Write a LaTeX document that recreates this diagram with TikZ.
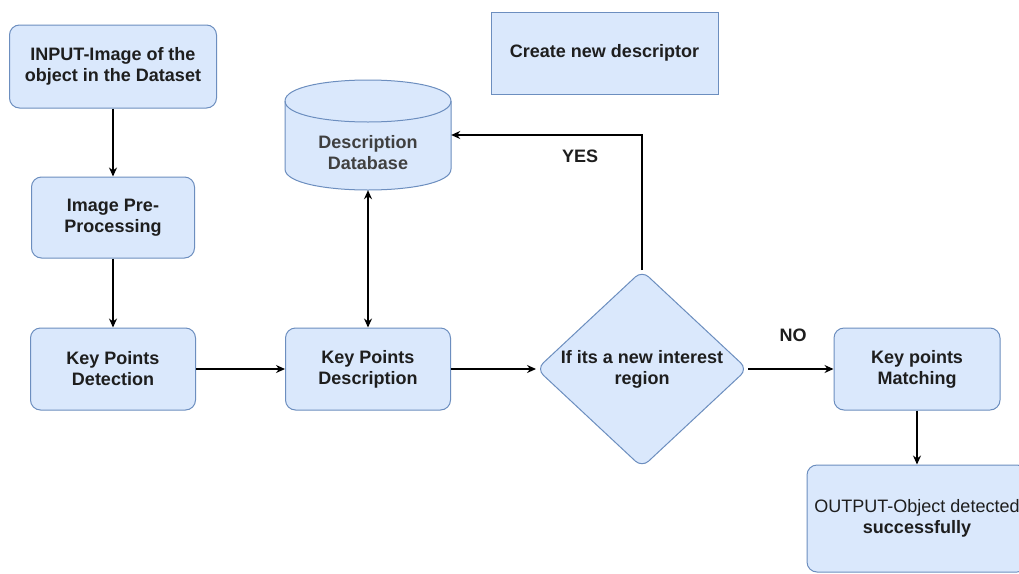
\documentclass[tikz,border=0pt]{standalone}
\usepackage{fontspec}
\setmainfont{Liberation Sans}
\usetikzlibrary{arrows.meta,shapes.geometric}
\definecolor{boxfill}{HTML}{DAE8FC}
\definecolor{boxline}{HTML}{6C8EBF}
\definecolor{txt}{HTML}{1E1E1E}
\tikzset{
  fnt/.style={font=\fontsize{18}{21}\selectfont\bfseries},
  box/.style={draw=boxline, fill=boxfill, line width=1pt, rounded corners=10pt, inner sep=2pt,
    align=center, text=txt, fnt},
  sq/.style={box, rounded corners=0pt},
  dec/.style={draw=boxline, fill=boxfill, line width=1pt, diamond, rounded corners=9pt, inner sep=0pt,
    align=center, text=txt, fnt},
  conn/.style={line width=1.4pt, -{Stealth[length=9pt,width=8pt]}},
  lbl/.style={text=txt, fnt}
}
\begin{document}
\begin{tikzpicture}[x=1pt,y=-1pt]
\useasboundingbox (0,0) rectangle (1019,573);
\clip (0,0) rectangle (1019,573);
\fill[white] (0,0) rectangle (1019,573);

\node[box, minimum width=207pt, minimum height=83pt] (in) at (113,66.5) {INPUT-Image of the\\object in the Dataset};
\node[box, minimum width=163pt, minimum height=81pt] (pre) at (113,217.5) {Image Pre-\\Processing};
\node[box, minimum width=165pt, minimum height=82pt] (det) at (113,369) {Key Points\\Detection};
\node[box, minimum width=165pt, minimum height=82pt] (desc) at (368,369) {Key Points\\Description};
\node[sq, minimum width=227pt, minimum height=82pt] (new) at (604.5,53) {Create new descriptor};
\node[dec, minimum width=211pt, minimum height=197pt, aspect=1.07] (dia) at (642,369) {If its a new interest\\region};
\node[box, minimum width=220pt, minimum height=107pt, font=\fontsize{18}{21}\selectfont] (out) at (917,518.5) {OUTPUT-Object detected\\\textbf{successfully}};
\node[box, minimum width=166pt, minimum height=82pt] (match) at (917,369) {Key points\\Matching};

% cylinder
\path[draw=boxline, fill=boxfill, line width=1pt]
  (285,101) -- (285,169) .. controls (285,197) and (451,197) .. (451,169)
  -- (451,101) .. controls (451,73) and (285,73) .. (285,101) -- cycle;
\draw[boxline, line width=1pt] (285,101) .. controls (285,129) and (451,129) .. (451,101);
\node[inner sep=0pt, minimum width=166pt, minimum height=110pt] (db) at (368,135) {};
\node[lbl, align=center, text=txt!85] (dbt) at (368,153) {Description\\Database};

\draw[conn] (in) -- (pre);
\draw[conn] (pre) -- (det);
\draw[conn] (det) -- (desc);
\draw[line width=1.4pt, {Stealth[length=9pt,width=8pt]}-{Stealth[length=9pt,width=8pt]}] (db) -- (desc);
\draw[conn] (desc) -- (dia);
\draw[conn] (dia.north) |- (db.east);
\node[lbl] (yes) at (580,156) {YES};
\draw[conn] (dia.east) -- (match.west);
\node[lbl] (no) at (793,335) {NO};
\draw[conn] (match) -- (out);
\end{tikzpicture}
\end{document}
